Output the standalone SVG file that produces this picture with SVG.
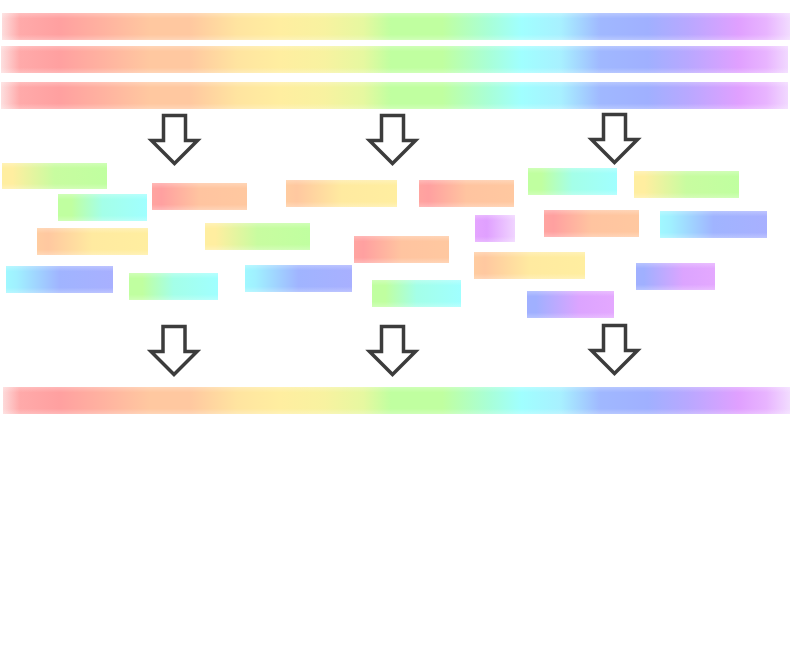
<svg xmlns="http://www.w3.org/2000/svg" width="800" height="650" viewBox="0 0 800 650">
<defs>
<linearGradient id="rainbow" gradientUnits="userSpaceOnUse" x1="0" y1="0" x2="790" y2="0">
<stop offset="0" stop-color="#fde2e2"/>
<stop offset="0.025" stop-color="#ffaaaa"/>
<stop offset="0.075" stop-color="#ffa0a0"/>
<stop offset="0.13" stop-color="#ffb2a0"/>
<stop offset="0.19" stop-color="#ffc8a0"/>
<stop offset="0.24" stop-color="#ffc8a0"/>
<stop offset="0.30" stop-color="#ffe4a0"/>
<stop offset="0.355" stop-color="#ffeea0"/>
<stop offset="0.41" stop-color="#f8f2a0"/>
<stop offset="0.46" stop-color="#e6f8a0"/>
<stop offset="0.495" stop-color="#c0ffa0"/>
<stop offset="0.56" stop-color="#c0ffa0"/>
<stop offset="0.62" stop-color="#a8ffd8"/>
<stop offset="0.66" stop-color="#a0ffff"/>
<stop offset="0.71" stop-color="#a8f0ff"/>
<stop offset="0.76" stop-color="#a0b8ff"/>
<stop offset="0.82" stop-color="#a0b0ff"/>
<stop offset="0.87" stop-color="#b8a8ff"/>
<stop offset="0.935" stop-color="#e0a0ff"/>
<stop offset="0.97" stop-color="#e8b4ff"/>
<stop offset="1" stop-color="#f2dcff"/>
</linearGradient>
<linearGradient id="soft" x1="0" y1="0" x2="0" y2="1">
<stop offset="0" stop-color="#fff" stop-opacity="0.25"/>
<stop offset="0.2" stop-color="#fff" stop-opacity="0"/>
<stop offset="0.8" stop-color="#fff" stop-opacity="0"/>
<stop offset="1" stop-color="#fff" stop-opacity="0.25"/>
</linearGradient>
<linearGradient id="gRO" x1="0" y1="0" x2="1" y2="0"><stop offset="0" stop-color="#ffa4a0"/><stop offset="0.1" stop-color="#ffa0a0"/><stop offset="0.5" stop-color="#ffc4a0"/><stop offset="1" stop-color="#ffc8a0"/></linearGradient>
<linearGradient id="gOY" x1="0" y1="0" x2="1" y2="0"><stop offset="0" stop-color="#ffcca0"/><stop offset="0.1" stop-color="#ffc8a0"/><stop offset="0.5" stop-color="#ffeaa0"/><stop offset="1" stop-color="#ffeea0"/></linearGradient>
<linearGradient id="gYG" x1="0" y1="0" x2="1" y2="0"><stop offset="0" stop-color="#ffeea0"/><stop offset="0.1" stop-color="#ffeea0"/><stop offset="0.5" stop-color="#c8fca0"/><stop offset="1" stop-color="#c0ffa0"/></linearGradient>
<linearGradient id="gGC" x1="0" y1="0" x2="1" y2="0"><stop offset="0" stop-color="#c0ffa0"/><stop offset="0.15" stop-color="#c0ffa0"/><stop offset="0.5" stop-color="#a4ffe8"/><stop offset="1" stop-color="#a0ffff"/></linearGradient>
<linearGradient id="gCB" x1="0" y1="0" x2="1" y2="0"><stop offset="0" stop-color="#a0f8ff"/><stop offset="0.1" stop-color="#a0f0ff"/><stop offset="0.5" stop-color="#a0b4ff"/><stop offset="1" stop-color="#a8b0ff"/></linearGradient>
<linearGradient id="gBP" x1="0" y1="0" x2="1" y2="0"><stop offset="0" stop-color="#a0b0ff"/><stop offset="0.1" stop-color="#a0b0ff"/><stop offset="0.6" stop-color="#dca4ff"/><stop offset="1" stop-color="#e4a8ff"/></linearGradient>
<linearGradient id="gPP" x1="0" y1="0" x2="1" y2="0"><stop offset="0" stop-color="#e4a4ff"/><stop offset="0.3" stop-color="#e0a0ff"/><stop offset="1" stop-color="#f0d4ff"/></linearGradient>
<path id="arrow" d="M-11,0 H11 V25 H23 L0,48 L-23,25 H-11 Z"/>
</defs>
<style>
.bar{fill:url(#rainbow)}
.soft{fill:url(#soft)}
.arr{fill:#fff;stroke:#3c3c3c;stroke-width:3.5;stroke-linejoin:miter}
</style>
<rect width="800" height="650" fill="#fff"/>

<g id="band1"><rect class="bar" x="2" y="13" width="788" height="27"/><rect class="soft" x="2" y="13" width="788" height="27"/></g>
<g id="band2"><rect class="bar" x="1" y="46" width="787" height="27"/><rect class="soft" x="1" y="46" width="787" height="27"/></g>
<g id="band3"><rect class="bar" x="1" y="82" width="787" height="27"/><rect class="soft" x="1" y="82" width="787" height="27"/></g>
<g id="band4"><rect class="bar" x="3" y="387" width="787" height="27"/><rect class="soft" x="3" y="387" width="787" height="27"/></g>

<g id="boxes">
<g id="b1"><rect x="2" y="163" width="105" height="26" fill="url(#gYG)"/><rect class="soft" x="2" y="163" width="105" height="26"/></g>
<g id="b2"><rect x="58" y="194" width="89" height="27" fill="url(#gGC)"/><rect class="soft" x="58" y="194" width="89" height="27"/></g>
<g id="b3"><rect x="37" y="228" width="111" height="27" fill="url(#gOY)"/><rect class="soft" x="37" y="228" width="111" height="27"/></g>
<g id="b4"><rect x="6" y="266" width="107" height="27" fill="url(#gCB)"/><rect class="soft" x="6" y="266" width="107" height="27"/></g>
<g id="b5"><rect x="129" y="273" width="89" height="27" fill="url(#gGC)"/><rect class="soft" x="129" y="273" width="89" height="27"/></g>
<g id="b6"><rect x="152" y="183" width="95" height="27" fill="url(#gRO)"/><rect class="soft" x="152" y="183" width="95" height="27"/></g>
<g id="b7"><rect x="205" y="223" width="105" height="27" fill="url(#gYG)"/><rect class="soft" x="205" y="223" width="105" height="27"/></g>
<g id="b8"><rect x="245" y="265" width="107" height="27" fill="url(#gCB)"/><rect class="soft" x="245" y="265" width="107" height="27"/></g>
<g id="b9"><rect x="286" y="180" width="111" height="27" fill="url(#gOY)"/><rect class="soft" x="286" y="180" width="111" height="27"/></g>
<g id="b10"><rect x="419" y="180" width="95" height="27" fill="url(#gRO)"/><rect class="soft" x="419" y="180" width="95" height="27"/></g>
<g id="b11"><rect x="354" y="236" width="95" height="27" fill="url(#gRO)"/><rect class="soft" x="354" y="236" width="95" height="27"/></g>
<g id="b12"><rect x="372" y="280" width="89" height="27" fill="url(#gGC)"/><rect class="soft" x="372" y="280" width="89" height="27"/></g>
<g id="b13"><rect x="475" y="215" width="40" height="27" fill="url(#gPP)"/><rect class="soft" x="475" y="215" width="40" height="27"/></g>
<g id="b14"><rect x="474" y="252" width="111" height="27" fill="url(#gOY)"/><rect class="soft" x="474" y="252" width="111" height="27"/></g>
<g id="b15"><rect x="528" y="168" width="89" height="27" fill="url(#gGC)"/><rect class="soft" x="528" y="168" width="89" height="27"/></g>
<g id="b16"><rect x="634" y="171" width="105" height="27" fill="url(#gYG)"/><rect class="soft" x="634" y="171" width="105" height="27"/></g>
<g id="b17"><rect x="544" y="210" width="95" height="27" fill="url(#gRO)"/><rect class="soft" x="544" y="210" width="95" height="27"/></g>
<g id="b18"><rect x="660" y="211" width="107" height="27" fill="url(#gCB)"/><rect class="soft" x="660" y="211" width="107" height="27"/></g>
<g id="b19"><rect x="636" y="263" width="79" height="27" fill="url(#gBP)"/><rect class="soft" x="636" y="263" width="79" height="27"/></g>
<g id="b20"><rect x="527" y="291" width="87" height="27" fill="url(#gBP)"/><rect class="soft" x="527" y="291" width="87" height="27"/></g>
</g>

<g id="connectors">
<use href="#arrow" class="arr" transform="translate(174.5,115.5)"/>
<use href="#arrow" class="arr" transform="translate(392.5,115.5)"/>
<use href="#arrow" class="arr" transform="translate(614.5,114.5)"/>
<use href="#arrow" class="arr" transform="translate(174,326.5)"/>
<use href="#arrow" class="arr" transform="translate(392.5,326.5)"/>
<use href="#arrow" class="arr" transform="translate(614.5,325.5)"/>
</g>
</svg>
